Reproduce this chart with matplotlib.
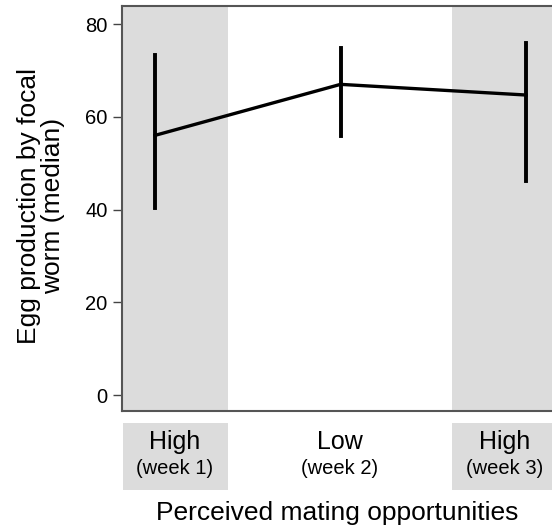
import matplotlib.pyplot as plt
import matplotlib.transforms as mtransforms
from matplotlib.patches import Rectangle

plt.rcParams['font.family'] = ['Liberation Sans', 'DejaVu Sans']

# valori
trattamenti = ['High', 'Low', 'High']
settimane = ['(week 1)', '(week 2)', '(week 3)']
mediane = [56, 67, 64.7]
err_basso = [40.3, 55.9, 46.1]
err_alto = [73.3, 74.8, 75.9]
pos = [0, 1, 2]

fig = plt.figure(figsize=(5.52, 5.30), dpi=100)
ax = fig.add_axes([122/552, 119/530, 1 - 122/552, 405/530])
ax.set_xlim(-0.178, 2.14)
ax.set_ylim(-3.45, 83.9)

grigio = '#dcdcdc'
# fasce grigie per le settimane "High"
ax.axvspan(-0.178, 0.392, color=grigio, lw=0, zorder=0)
ax.axvspan(1.6, 2.2, color=grigio, lw=0, zorder=0)

ax.plot(pos, mediane, color='black', lw=2.4, zorder=3)
for x, lo, hi in zip(pos, err_basso, err_alto):
    ax.plot([x, x], [lo, hi], color='black', lw=2.8, zorder=3)

# riquadri sotto l'asse con le etichette, centrate in ogni fascia
trans = mtransforms.blended_transform_factory(ax.transData, fig.transFigure)
y0 = (530 - 490) / 530
h = (490 - 423) / 530
ax.add_patch(Rectangle((-0.172, y0), 0.564, h, transform=trans, color=grigio,
                       lw=0, clip_on=False))
ax.add_patch(Rectangle((1.6, y0), 0.6, h, transform=trans, color=grigio,
                       lw=0, clip_on=False))
centri = [175, 340, 505]
for cx, t, s in zip(centri, trattamenti, settimane):
    fig.text(cx / 552, (530 - 442) / 530, t, ha='center', va='center', fontsize=18)
    fig.text(cx / 552, (530 - 468) / 530, s, ha='center', va='center', fontsize=14.5)

ax.set_xticks([])
ax.set_yticks([0, 20, 40, 60, 80])
ax.tick_params(axis='y', labelsize=14.5, length=6.5, width=1, color='#444444', pad=4)
for sp in ['left', 'top', 'bottom']:
    ax.spines[sp].set_color('#555555')
    ax.spines[sp].set_linewidth(1.5)
ax.spines['right'].set_visible(False)

fig.text(41/552, (530 - 206) / 530, 'Egg production by focal\nworm (median)',
         rotation=90, ha='center', va='center', fontsize=19, linespacing=1.05)
fig.text(337/552, (530 - 513) / 530, 'Perceived mating opportunities',
         ha='center', va='center', fontsize=19)

plt.savefig('out.png', dpi=100)
